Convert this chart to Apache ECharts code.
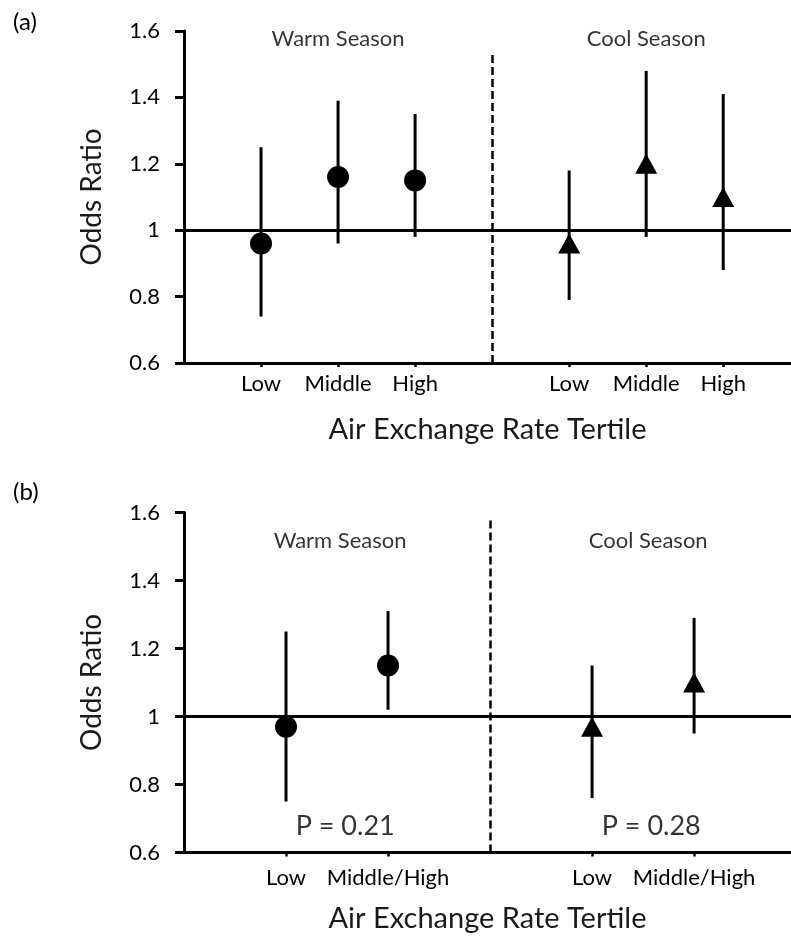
<!DOCTYPE html>
<html>
<head>
<meta charset="utf-8">
<script src="https://cdn.jsdelivr.net/npm/echarts@6/dist/echarts.min.js"></script>
<style>
  html, body { margin: 0; padding: 0; background: #fff; }
  #chart { width: 791px; height: 938px; }
</style>
</head>
<body>
<div id="chart"></div>
<script>
// panel (a): tertiles
const tertiles = ["Low", "Middle", "High"];
const warmOR_a = [0.96, 1.16, 1.15];
const warmLo_a = [0.74, 0.96, 0.98];
const warmHi_a = [1.25, 1.39, 1.35];
const coolOR_a = [0.96, 1.2, 1.1];
const coolLo_a = [0.79, 0.98, 0.88];
const coolHi_a = [1.18, 1.48, 1.41];

// panel (b): low vs middle/high
const groups_b = ["Low", "Middle/High"];
const warmOR_b = [0.97, 1.15];
const warmLo_b = [0.75, 1.02];
const warmHi_b = [1.25, 1.31];
const coolOR_b = [0.97, 1.1];
const coolLo_b = [0.76, 0.95];
const coolHi_b = [1.15, 1.29];
const pValues = ["P = 0.21", "P = 0.28"];

const seasons = ["Warm Season", "Cool Season"];
const yTicks = [0.6, 0.8, 1, 1.2, 1.4, 1.6];

const FONT = "Lato";
const INK = "#000";

// x positions: warm group, gap for divider, cool group
const xa = { warm: [1, 2, 3], divider: 4, cool: [5, 6, 7] };
const xb = { warm: [1, 2], divider: 3, cool: [4, 5] };

const ticksA = xa.warm.concat(xa.cool);
const labelsA = tertiles.concat(tertiles);
const ticksB = xb.warm.concat(xb.cool);
const labelsB = groups_b.concat(groups_b);

function xAxisFor(gridIndex, max, ticks, labels, margin) {
  return {
    gridIndex,
    type: "value",
    min: 0,
    max,
    name: "Air Exchange Rate Tertile",
    nameLocation: "middle",
    nameGap: 52,
    nameTextStyle: { fontFamily: FONT, fontSize: 29, color: "#1a1a1a" },
    axisLine: { lineStyle: { color: "#000", width: 3 } },
    axisTick: { show: true, customValues: ticks, length: 4, lineStyle: { color: "#000", width: 2.5 } },
    axisLabel: {
      customValues: ticks,
      margin,
      fontFamily: FONT,
      fontSize: 22,
      color: INK,
      formatter: (v) => labels[ticks.indexOf(Math.round(v))] || "",
    },
    splitLine: { show: false },
  };
}

function yAxisFor(gridIndex) {
  return {
    gridIndex,
    type: "value",
    min: 0.6,
    max: 1.6,
    name: "Odds Ratio",
    nameLocation: "middle",
    nameGap: 78,
    nameTextStyle: { fontFamily: FONT, fontSize: 28, color: "#1a1a1a" },
    axisLine: { show: true, lineStyle: { color: "#000", width: 3 } },
    axisTick: { show: true, customValues: yTicks, length: 9, lineStyle: { color: "#000", width: 3 } },
    axisLabel: {
      customValues: yTicks,
      margin: 24,
      fontFamily: FONT,
      fontSize: 22,
      color: INK,
      formatter: (v) => String(Math.round(v * 10) / 10),
    },
    splitLine: { show: false },
  };
}

function errorBars(xi, yi, xs, lo, hi) {
  return {
    type: "custom",
    xAxisIndex: xi,
    yAxisIndex: yi,
    z: 2,
    silent: true,
    data: xs.map((x, i) => [x, lo[i], hi[i]]),
    encode: { x: 0, y: [1, 2] },
    renderItem: (params, api) => {
      const p1 = api.coord([api.value(0), api.value(1)]);
      const p2 = api.coord([api.value(0), api.value(2)]);
      return {
        type: "line",
        shape: { x1: p1[0], y1: p1[1], x2: p2[0], y2: p2[1] },
        style: { stroke: "#000", lineWidth: 3 },
      };
    },
  };
}

function points(xi, yi, xs, vals, symbol, size) {
  return {
    type: "scatter",
    xAxisIndex: xi,
    yAxisIndex: yi,
    z: 3,
    symbol,
    symbolSize: size,
    itemStyle: { color: "#000", opacity: 1 },
    data: xs.map((x, i) => [x, vals[i]]),
  };
}

function refLines(xi, yi, divider, top) {
  return {
    type: "scatter",
    xAxisIndex: xi,
    yAxisIndex: yi,
    data: [],
    markLine: {
      silent: true,
      symbol: ["none", "none"],
      label: { show: false },
      animation: false,
      data: [
        { yAxis: 1, lineStyle: { color: "#000", width: 3, type: "solid" } },
        [
          { coord: [divider, 0.6], lineStyle: { color: "#000", width: 2.5, type: [8, 4] } },
          { coord: [divider, top] },
        ],
      ],
    },
  };
}

function texts(xi, yi, items, size) {
  return {
    type: "scatter",
    xAxisIndex: xi,
    yAxisIndex: yi,
    symbolSize: 0,
    silent: true,
    data: items.map((t) => ({
      value: [t[1], t[2]],
      label: {
        show: true,
        position: "inside",
        formatter: t[0],
        fontFamily: FONT,
        fontSize: size,
        color: INK,
      },
    })),
  };
}

const myChart = echarts.init(document.getElementById("chart"));

const option = {
  animation: false,
  backgroundColor: "#fff",
  grid: [
    { left: 184, top: 31, width: 607, height: 332 },
    { left: 184, top: 512.5, width: 607, height: 340 },
  ],
  xAxis: [xAxisFor(0, 7.88, ticksA, labelsA, 10), xAxisFor(1, 5.95, ticksB, labelsB, 14)],
  yAxis: [yAxisFor(0), yAxisFor(1)],
  graphic: [
    { type: "text", left: 13, top: 10, style: { text: "(a)", fontFamily: FONT, fontSize: 24, fill: INK } },
    { type: "text", left: 13, top: 480, style: { text: "(b)", fontFamily: FONT, fontSize: 24, fill: INK } },
  ],
  series: [
    refLines(0, 0, xa.divider, 1.535),
    errorBars(0, 0, xa.warm, warmLo_a, warmHi_a),
    errorBars(0, 0, xa.cool, coolLo_a, coolHi_a),
    points(0, 0, xa.warm, warmOR_a, "circle", 22),
    points(0, 0, xa.cool, coolOR_a, "triangle", [22, 20]),
    texts(0, 0, [[seasons[0], 2, 1.575], [seasons[1], 6, 1.575]], 22),

    refLines(1, 1, xb.divider, 1.585),
    errorBars(1, 1, xb.warm, warmLo_b, warmHi_b),
    errorBars(1, 1, xb.cool, coolLo_b, coolHi_b),
    points(1, 1, xb.warm, warmOR_b, "circle", 22),
    points(1, 1, xb.cool, coolOR_b, "triangle", [22, 20]),
    texts(1, 1, [[seasons[0], 1.53, 1.515], [seasons[1], 4.55, 1.515]], 22),
    texts(1, 1, [[pValues[0], 1.58, 0.678], [pValues[1], 4.58, 0.678]], 27),
  ],
};

myChart.setOption(option);
</script>
</body>
</html>
